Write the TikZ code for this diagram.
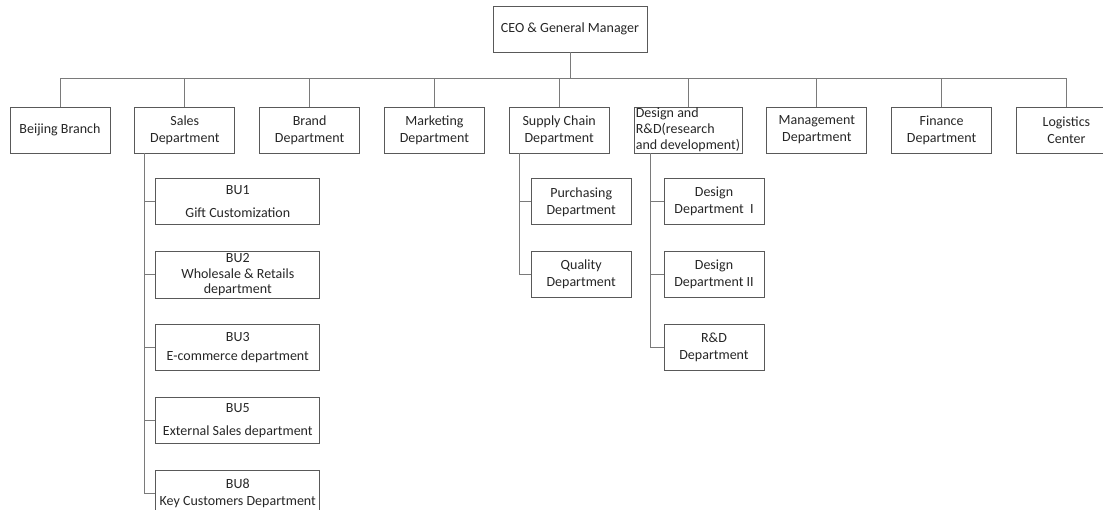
\documentclass[tikz,border=0pt]{standalone}
\usepackage{fontspec}
\setmainfont{Carlito}
\usepackage{xcolor}
\usetikzlibrary{positioning}
\definecolor{boxline}{HTML}{595959}
\definecolor{wire}{HTML}{7A7A7A}
\definecolor{ink}{HTML}{262626}

\begin{document}
\begin{tikzpicture}[
    node distance=24pt,
    unit/.style={rectangle, draw=boxline, line width=0.8pt, text=ink, minimum width=100pt, minimum height=46pt, align=center, inner sep=2pt, font=\fontsize{14pt}{17pt}\selectfont},
    subunit/.style={unit, minimum width=164pt},
    link/.style={draw=wire, line width=0.8pt}
]
\useasboundingbox (0,0) rectangle (1103pt,-510pt);

% Head
\node[unit, minimum width=154pt] (ceo) at (570pt,-29pt) {CEO \& General Manager};

% Departments
\node[unit] (beijing) at (60pt,-130pt) {Beijing Branch};
\node[unit, right=of beijing] (sales) {Sales\\Department};
\node[unit, right=of sales] (brand) {Brand\\Department};
\node[unit, right=of brand] (marketing) {Marketing\\Department};
\node[unit, right=of marketing] (supply) {Supply Chain\\Department};
\node[unit, right=of supply, minimum width=108pt, inner xsep=1pt, inner ysep=0pt, align=left, font=\fontsize{14pt}{16pt}\selectfont] (design) {Design and\\R\&D(research\\and development)};
\node[unit, right=of design] (management) {Management\\Department};
\node[unit, right=of management] (finance) {Finance\\Department};
\node[unit, right=of finance] (logistics) {Logistics\\Center};

% Sales units
\node[subunit, below right=25pt and 21pt of sales.south west] (bu1) {BU1\\[6pt]Gift Customization};
\node[subunit, below=26pt of bu1, font=\fontsize{14pt}{15.5pt}\selectfont] (bu2) {BU2\\Wholesale \& Retails\\department};
\node[subunit, below=26pt of bu2] (bu3) {BU3\\[2pt]E-commerce department};
\node[subunit, below=26pt of bu3] (bu5) {BU5\\[6pt]External Sales department};
\node[subunit, below=26pt of bu5] (bu8) {BU8\\Key Customers Department};

% Supply chain units
\node[unit, below right=25pt and 22pt of supply.south west] (purchasing) {Purchasing\\Department};
\node[unit, below=26pt of purchasing] (quality) {Quality\\Department};

% Design units
\node[unit, below right=25pt and 30pt of design.south west] (designone) {Design\\Department~~I};
\node[unit, below=26pt of designone] (designtwo) {Design\\Department II};
\node[unit, below=26pt of designtwo] (rnd) {R\&D\\Department};

% Connections
\foreach \dept in {beijing,sales,brand,marketing,supply,design,management,finance,logistics}
    \draw[link] (ceo.south) |- ([yshift=28pt]\dept.north) -- (\dept.north);
\foreach \bu in {bu1,bu2,bu3,bu5,bu8}
    \draw[link] ([xshift=10pt]sales.south west) |- (\bu.west);
\foreach \sub in {purchasing,quality}
    \draw[link] ([xshift=11pt]supply.south west) |- (\sub.west);
\foreach \sub in {designone,designtwo,rnd}
    \draw[link] ([xshift=17pt]design.south west) |- (\sub.west);

\end{tikzpicture}
\end{document}
